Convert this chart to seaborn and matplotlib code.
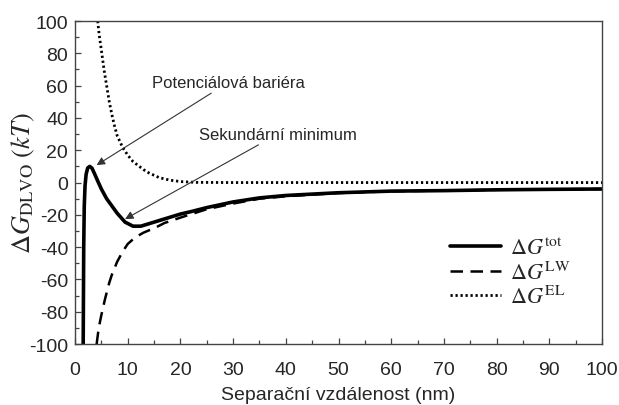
import numpy as np
import pandas as pd
import matplotlib
matplotlib.use('Agg')
import matplotlib.pyplot as plt
import seaborn as sns

# values
x_tot = [1.55, 1.6, 1.65, 1.75, 1.9, 2.1, 2.4, 2.8, 3.2, 3.7, 4.3, 5, 6, 7, 8, 9.5, 11, 12.5,
         14, 16, 18, 20, 22, 25, 30, 35, 40, 50, 60, 70, 80, 90, 100]
g_tot = [-100, -70, -40, -15, -2, 5, 9, 10, 9, 5.5, 1, -4, -10, -14.5, -19, -24.5, -27, -27,
         -25.5, -23.5, -21.5, -19.5, -18, -15.5, -12, -9.5, -8, -6.3, -5.3, -5, -4.5, -4.2, -4]

x_lw = [4.1, 4.5, 5, 5.7, 6.5, 7, 8, 9, 10, 11.4, 13, 15.2, 17, 20.2, 25, 30, 35, 40,
        50, 60, 70, 80, 90, 100]
g_lw = [-100, -90, -82, -72, -62, -57, -49, -43, -38, -34, -31, -28, -25, -21.5, -16.5, -13, -10, -8.5,
        -6.5, -5.4, -5, -4.5, -4.2, -4]

x_el = [4.3, 4.6, 5, 5.5, 6, 6.5, 7, 7.5, 8, 9, 10, 11, 12, 13, 14, 16, 18, 20, 23, 30, 50, 100]
g_el = [100, 91, 82, 70, 60, 50, 42, 35, 29, 22, 17, 13, 10.5, 8, 6, 3, 1.5, 0.6, 0.1, 0, 0, 0]

sns.set_style('ticks')
plt.rcParams['font.family'] = ['Liberation Sans', 'DejaVu Sans']
plt.rcParams['mathtext.fontset'] = 'stix'
plt.rcParams['axes.unicode_minus'] = False

fig = plt.figure(figsize=(6.19, 4.06), dpi=100)
ax = fig.add_axes([0.1212, 0.150, 0.8513, 0.7958])

sns.lineplot(x=x_tot, y=g_tot, ax=ax, color='black', lw=2.6, label=r'$\Delta G^{\mathrm{tot}}$')
sns.lineplot(x=x_lw, y=g_lw, ax=ax, color='black', lw=1.8, dashes=(5, 3), label=r'$\Delta G^{\mathrm{LW}}$')
sns.lineplot(x=x_el, y=g_el, ax=ax, color='black', lw=2.0, dashes=(0.8, 1.0), label=r'$\Delta G^{\mathrm{EL}}$')

ax.set_xlim(0, 100)
ax.set_ylim(-100, 100)
ax.set_xticks(np.arange(0, 101, 10))
ax.set_yticks(np.arange(-100, 101, 20))
ax.set_xticks(np.arange(5, 100, 10), minor=True)
ax.set_yticks(np.arange(-90, 100, 20), minor=True)
ax.tick_params(axis='both', which='both', direction='in', top=False, right=False,
               color='#444444', width=0.9)
ax.tick_params(axis='both', which='major', length=4, labelsize=14)
ax.tick_params(axis='x', which='major', pad=12)
ax.tick_params(axis='y', which='major', pad=5)
ax.tick_params(axis='both', which='minor', length=3)
for s in ax.spines.values():
    s.set_color('#444444')
    s.set_linewidth(1.0)

ax.set_xlabel('Separační vzdálenost (nm)', fontsize=14, labelpad=6)
ax.set_ylabel(r'$\Delta G_{\mathrm{DLVO}}\ (kT)$', fontsize=19)
ax.yaxis.set_label_coords(-0.072, 0.5)

arrow = dict(arrowstyle='-|>', color='#333333', lw=0.8, mutation_scale=12, shrinkA=0, shrinkB=0)
ax.annotate('Potenciálová bariéra', xy=(4.1, 10.8), xytext=(14.6, 62), fontsize=12,
            va='center', ha='left', arrowprops=arrow)
ax.annotate('Sekundární minimum', xy=(9.5, -22.6), xytext=(23.5, 30), fontsize=12,
            va='center', ha='left', arrowprops=arrow)

leg = ax.legend(loc='lower right', bbox_to_anchor=(0.978, 0.05), frameon=False, fontsize=16,
                handlelength=2.3, labelspacing=0.1, handletextpad=0.4)

fig.savefig('out.png', dpi=100)
